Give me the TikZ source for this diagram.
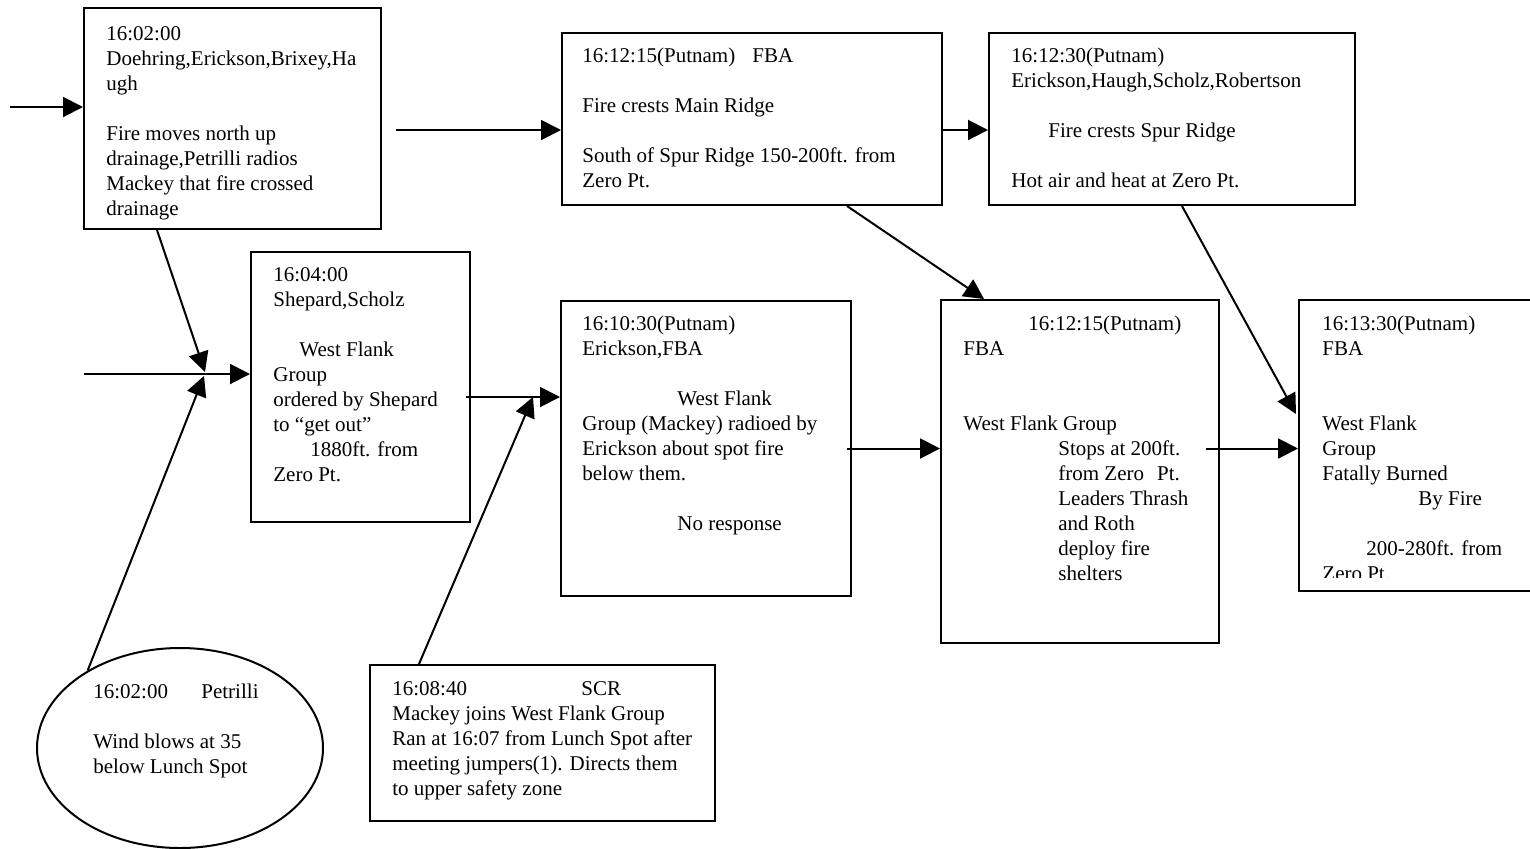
\documentclass[tikz,border=0pt]{standalone}
\usepackage{fontspec}
\setmainfont{Liberation Serif}
\usetikzlibrary{arrows.meta,calc,fit,shapes.geometric}
\begin{document}
\begin{tikzpicture}[x=0.5pt,y=-0.5pt,
  box/.style={draw, line width=1pt, inner sep=0pt},
  oval/.style={draw, ellipse, line width=1pt, inner sep=0pt},
  txt/.style={anchor=north west, inner sep=0pt, align=left,
              font=\fontsize{10.5}{12.5}\selectfont},
  arr/.style={line width=1pt, -{Triangle[length=10pt,width=10pt]}}]

\useasboundingbox[fill=white] (0,0) rectangle (1530,848);

% event boxes
\node[box, fit={(84,8) (381,229)}]    (A) {};
\node[box, fit={(562,33) (942,205)}]  (B) {};
\node[box, fit={(989,33) (1355,205)}] (C) {};
\node[box, fit={(251,252) (470,522)}] (D) {};
\node[box, fit={(561,301) (851,596)}] (E) {};
\node[box, fit={(941,300) (1219,643)}] (F) {};
\node[box, fit={(1299,300) (1536,591)}] (G) {};
\node[box, fit={(370,665) (715,821)}] (I) {};
\node[oval, minimum width=143pt, minimum height=100pt] (H) at (180,748) {};

% texts
\node[txt] (At) at (106,22.5) {\strut 16:02:00\\
  Doehring,Erickson,Brixey,Ha\\ ugh\\[12.5pt]
  Fire moves north up\\ drainage,Petrilli radios\\
  Mackey that fire crossed\\ drainage};
\node[txt] (Bt) at (582,44.5) {\strut\makebox[85pt][l]{16:12:15(Putnam)}FBA\\[12.5pt]
  Fire crests Main Ridge\\[12.5pt]
  South of Spur Ridge 150-200ft. from\\ Zero Pt.};
\node[txt] (Ct) at (1011,44.5) {\strut 16:12:30(Putnam)\\
  Erickson,Haugh,Scholz,Robertson\\[12.5pt]
  \hspace*{18.5pt}Fire crests Spur Ridge\\[12.5pt]
  Hot air and heat at Zero Pt.};
\node[txt] (Dt) at (273,263.5) {\strut 16:04:00\\ Shepard,Scholz\\[12.5pt]
  \hspace*{13pt}West Flank\\ Group\\ ordered by Shepard\\
  to “get out”\\ \hspace*{18.5pt}1880ft. from\\ Zero Pt.};
\node[txt] (Et) at (582,312.5) {\strut 16:10:30(Putnam)\\ Erickson,FBA\\[12.5pt]
  \hspace*{47.5pt}West Flank\\ Group (Mackey) radioed by\\
  Erickson about spot fire\\ below them.\\[12.5pt]
  \hspace*{47.5pt}No response};
\node[txt] (Ft) at (963,312.5) {\strut\hspace*{32.5pt}16:12:15(Putnam)\\ FBA\\[25pt]
  West Flank Group\\
  \hspace*{47.5pt}Stops at 200ft.\\
  \hspace*{47.5pt}from Zero\hspace{6.5pt}Pt.\\
  \hspace*{47.5pt}Leaders Thrash\\
  \hspace*{47.5pt}and Roth\\
  \hspace*{47.5pt}deploy fire\\
  \hspace*{47.5pt}shelters};
\begin{scope}
  % last line runs past the text area and is cut off
  \clip (1299,300) rectangle (1530,577);
  \node[txt] (Gt) at (1322,312.5) {\strut 16:13:30(Putnam)\\ FBA\\[25pt]
    West Flank\\ Group\\ Fatally Burned\\ \hspace*{48pt}By Fire\\[12.5pt]
    \hspace*{22pt}200-280ft. from\\ Zero Pt.};
\end{scope}
\node[txt] (It) at (392,677.5) {\strut\makebox[94.5pt][l]{16:08:40}SCR\\
  Mackey joins West Flank Group\\ Ran at 16:07 from Lunch Spot after\\
  meeting jumpers(1). Directs them\\ to upper safety zone};
\node[txt] (Ht) at (93,680.5) {\strut\makebox[54pt][l]{16:02:00}Petrilli\\[12.5pt]
  Wind blows at 35\\ below Lunch Spot};

% free ends and junctions
\coordinate (in1) at (10,107);
\coordinate (in2) at (396,130);
\coordinate (in3) at (84,374);
\coordinate (j1) at (205,374);
\coordinate (j2) at (533,397);

% connectors
\draw[arr] (in1) -- (A.west |- in1);
\draw[arr] (in2) -- (B.west |- in2);
\draw[arr] (B.east |- in2) -- (C.west |- in2);
\draw[arr] (in3) -- (D.west |- in3);
\draw[arr] ($(A.south west)+(74,0)$) -- ($(j1)+(0,-2)$);
\draw[arr] (H.140) -- ($(j1)+(-1,2)$);
\draw[arr] ($(D.east |- j2)+(-5,0)$) -- (E.west |- j2);
\draw[arr] ($(I.north west)+(50,0)$) -- (j2);
\draw[arr] ($(E.east)+(-5,0)$) -- (F.west |- E.east);
\draw[arr] ($(F.east |- E.east)+(-14,0)$) -- (G.west |- E.east);
\draw[arr] ($(B.south west)+(286,0)$) -- ($(F.north west)+(44,0)$);
\draw[arr] ($(C.south west)+(194,0)$) -- ($(G.north west)+(-2,115)$);
\end{tikzpicture}
\end{document}
